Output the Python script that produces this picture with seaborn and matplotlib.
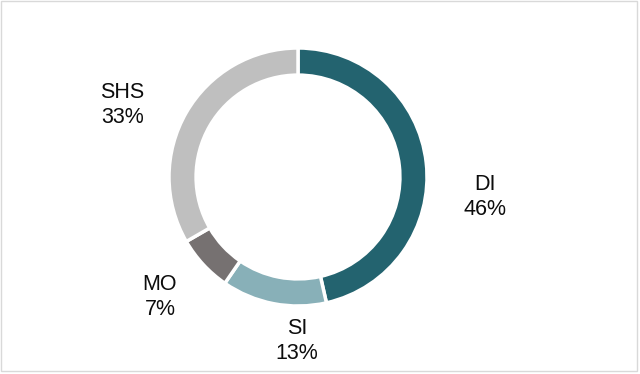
import matplotlib
matplotlib.use('Agg')
import matplotlib.pyplot as plt
import seaborn as sns
from matplotlib.patches import Rectangle

# data
categories = ["DI", "SI", "MO", "SHS"]
shares = [46, 13, 7, 33]
colors = ["#23636f", "#88b0b8", "#767171", "#bfbfbf"]

# label anchor points (axes data units, ring radius = 1)
label_pos = [(1.45, -0.155), (-0.008, -1.27), (-1.07, -0.93), (-1.36, 0.56)]

sns.set_theme(style="white")
plt.rcParams['font.family'] = ['Liberation Sans', 'DejaVu Sans']

fig = plt.figure(figsize=(6.4, 3.74), dpi=100)
ax = fig.add_axes([0, 0, 1, 1])
ax.pie(shares, colors=colors, startangle=90, counterclock=False,
       radius=1.0,
       wedgeprops=dict(width=0.21, edgecolor="white", linewidth=2.5))

for cat, val, (x, y) in zip(categories, shares, label_pos):
    ax.text(x, y, f"{cat}\n{val}%", ha="center", va="center",
            fontsize=15.5, color="#0d0d0d", linespacing=1.28)

ax.set_xlim(-2.31, 2.651)
ax.set_ylim(-1.527, 1.372)
ax.set_aspect("equal")
ax.axis("off")

fig.patches.append(Rectangle((0.002, 0.008), 0.994, 0.99, transform=fig.transFigure,
                             fill=False, edgecolor="#d9d9d9", linewidth=1))

plt.savefig("out.png", dpi=100)
plt.close()
